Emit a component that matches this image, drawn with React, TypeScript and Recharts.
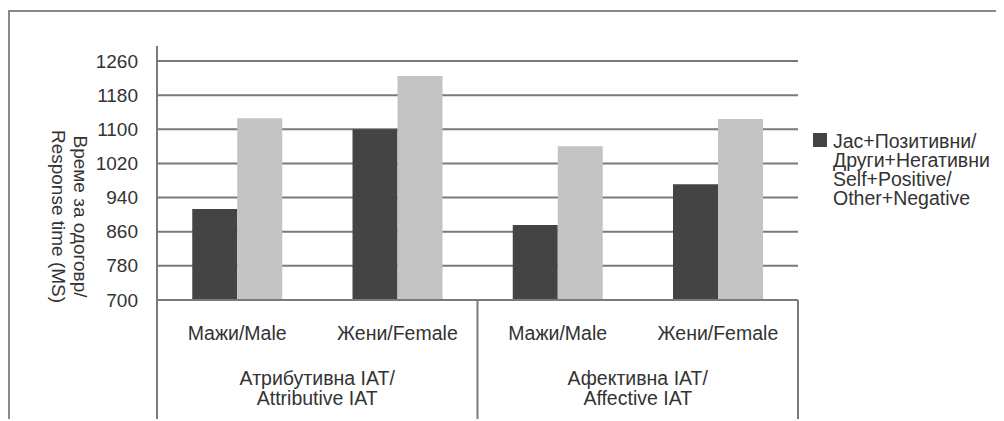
import React from 'react';
import { BarChart, Bar, XAxis, YAxis, CartesianGrid, Legend } from 'recharts';

const CATEGORIES = ['Мажи/Male', 'Жени/Female', 'Мажи/Male', 'Жени/Female'];
const GROUPS = [
  ['Атрибутивна IAT/', 'Attributive IAT'],
  ['Афективна IAT/', 'Affective IAT'],
];
const SELF_POS = [913, 1100, 876, 971];
const SELF_NEG = [1126, 1225, 1060, 1124];
const Y_TICKS = [700, 780, 860, 940, 1020, 1100, 1180, 1260];
const Y_DOMAIN = [700, 1260];
const SERIES_1_LINES = ['Jac+Позитивни/', 'Други+Негативни', 'Self+Positive/', 'Other+Negative'];
const SERIES_2_LINES = ['Jac+Негативни/', 'Други+Позитивни', 'Self+Negative/', 'Other+Positive'];
const Y_TITLE = ['Време за одоговр/', 'Response time (MS)'];

const data = CATEGORIES.map((c, i) => ({
  key: `c${i}`,
  label: c,
  selfPos: SELF_POS[i],
  selfNeg: SELF_NEG[i],
}));

const FONT = '"Liberation Sans", Arial, sans-serif';
const TEXT = '#333333';
const LINE = '#7a7a7a';
const DARK = '#444444';
const LIGHT = '#c3c3c3';
const FRAME_EXT = 15;
const TICK_GAP = 19;

const CatTick = (props: any) => {
  const { x, y, width, index } = props;
  const band = width / CATEGORIES.length;
  const left = x - band / 2;
  const right = x + band / 2;
  const els: any[] = [];
  els.push(
    <text key="t" x={x} y={y + 33} textAnchor="middle" dominantBaseline="central"
      fill={TEXT} fontSize={19.5} fontFamily={FONT}>{CATEGORIES[index]}</text>
  );
  if (index % 2 === 0) {
    els.push(<line key="l" x1={left} x2={left} y1={y} y2={y + 125} stroke={LINE} strokeWidth={2} />);
    const g = GROUPS[Math.floor(index / 2)];
    els.push(
      <text key="g" x={right} textAnchor="middle" fill={TEXT} fontSize={19.5} fontFamily={FONT}>
        <tspan x={right} y={y + 78} dominantBaseline="central">{g[0]}</tspan>
        <tspan x={right} y={y + 98} dominantBaseline="central">{g[1]}</tspan>
      </text>
    );
  }
  if (index === CATEGORIES.length - 1) {
    els.push(<line key="r" x1={right} x2={right} y1={y} y2={y + 125} stroke={LINE} strokeWidth={2} />);
  }
  return <g>{els}</g>;
};

const LeftTick = (props: any) => {
  const { x, y, payload } = props;
  const isTop = payload && payload.value === Y_TICKS[Y_TICKS.length - 1];
  return (
    <g>
      <text x={x} y={y} textAnchor="end" dominantBaseline="central" fill={TEXT}
        fontSize={19} fontFamily={FONT}>{payload.value}</text>
      {isTop ? (
        <line x1={x + TICK_GAP} x2={x + TICK_GAP} y1={y - FRAME_EXT} y2={y} stroke={LINE} strokeWidth={2} />
      ) : null}
    </g>
  );
};

const RightTick = (props: any) => {
  const { x, y } = props;
  return <line x1={x} x2={x} y1={y - FRAME_EXT} y2={y} stroke={LINE} strokeWidth={2} />;
};

const YTitle = (props: any) => {
  const vb = props.viewBox || { x: 0, y: 49, width: 147, height: 239 };
  const cx = vb.x + 59;
  const cy = vb.y + vb.height / 2 + 36;
  return (
    <text transform={`rotate(90, ${cx}, ${cy})`} textAnchor="middle" fill={TEXT}
      fontSize={19} fontFamily={FONT}>
      <tspan x={cx} y={cy - 11} dominantBaseline="central">{Y_TITLE[0]}</tspan>
      <tspan x={cx} y={cy + 11} dominantBaseline="central">{Y_TITLE[1]}</tspan>
    </text>
  );
};

const LegendContent = (props: any) => {
  const p = (props.payload || []).find((e: any) => e.dataKey === 'selfPos');
  const color = p && p.color ? p.color : DARK;
  return (
    <div style={{ display: 'flex', alignItems: 'flex-start', fontFamily: FONT, fontSize: 19.5, color: TEXT }}>
      <div style={{ width: 14, height: 14, background: color, marginRight: 6, marginTop: 1, flex: 'none' }} />
      <div style={{ lineHeight: '19px', whiteSpace: 'nowrap' }}>
        {SERIES_1_LINES.map((l, i) => <div key={i}>{l}</div>)}
      </div>
    </div>
  );
};

export default function App() {
  return (
    <div style={{
      position: 'relative', top: 2, width: 994, height: 409,
      borderTop: '2px solid #8a8a8a', borderLeft: '2px solid #8a8a8a', background: '#fff',
    }}>
      <BarChart width={994} height={409} data={data}
        margin={{ top: 49, right: 206, left: 0, bottom: 0 }}
        barCategoryGap="22%" barGap={0}>
        <CartesianGrid yAxisId="left" vertical={false} horizontalValues={Y_TICKS}
          stroke={LINE} strokeWidth={2} />
        <XAxis xAxisId="cat" dataKey="key" height={121} interval={0} tickSize={0} tickMargin={0}
          tickLine={false} axisLine={{ stroke: LINE, strokeWidth: 2 }} tick={<CatTick />} />
        <YAxis yAxisId="left" width={147} domain={Y_DOMAIN} ticks={Y_TICKS} allowDataOverflow
          tickLine={false} tickSize={0} tickMargin={TICK_GAP} interval={0}
          axisLine={{ stroke: LINE, strokeWidth: 2 }}
          tick={<LeftTick />}
          label={{ content: <YTitle /> }} />
        <YAxis yAxisId="right" orientation="right" width={0} domain={Y_DOMAIN} allowDataOverflow
          ticks={[Y_TICKS[Y_TICKS.length - 1]]} tickSize={0} tickMargin={0} interval={0}
          tick={<RightTick />} tickLine={false} axisLine={{ stroke: LINE, strokeWidth: 2 }} />
        <Bar xAxisId="cat" yAxisId="left" dataKey="selfPos" name={SERIES_1_LINES.join(' ')}
          fill={DARK} isAnimationActive={false} />
        <Bar xAxisId="cat" yAxisId="left" dataKey="selfNeg" name={SERIES_2_LINES.join(' ')}
          fill={LIGHT} isAnimationActive={false} />
        <Legend layout="horizontal" verticalAlign="middle" align="center"
          wrapperStyle={{ position: 'absolute', left: 803, top: 120, width: 190, height: 'auto' }}
          content={<LegendContent />} />
      </BarChart>
    </div>
  );
}
